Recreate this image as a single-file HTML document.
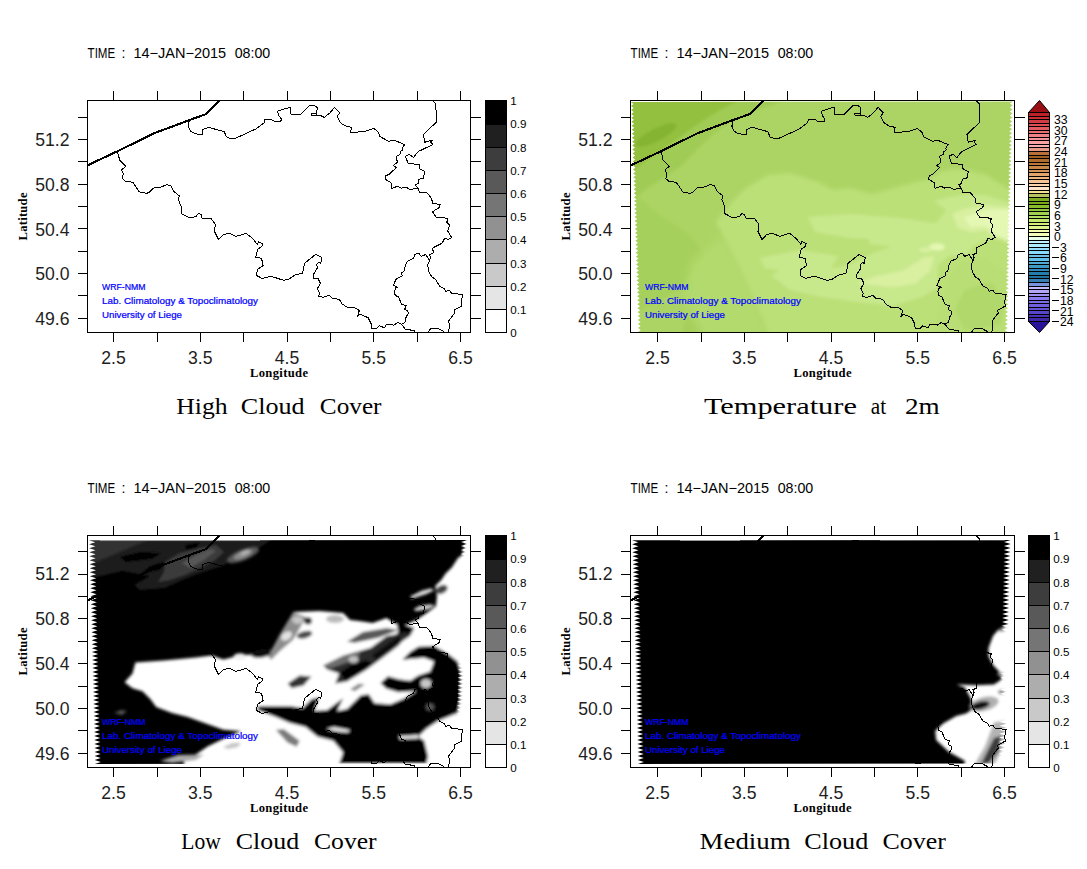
<!DOCTYPE html>
<html lang="en"><head><meta charset="utf-8"><title>WRF-NMM cloud cover and temperature maps</title>
<style>html,body{margin:0;padding:0;background:#fff;overflow:hidden}svg{display:block}</style>
</head><body>
<svg width="1087" height="869" viewBox="0 0 1087 869">
<rect width="1087" height="869" fill="#fff"/>
<defs>
<g id="bthin" fill="none" stroke="#000" stroke-width="1" stroke-linejoin="round" shape-rendering="crispEdges">
<path d="M117.4,152.2 L118.6,155.7 L119.7,160.4 L125.6,166.3 L121.5,170.1 L123.3,173.4 L122.4,178.7 L125.6,181.4 L132.7,182.2 L135.6,186.3 L139.2,191.9 L143.9,192.6 L146.2,193.6 L149.2,192.2 L153.3,188.1 L161.5,186.9 L166.8,184.6 L171.0,185.7 L173.7,191.3 L179.4,196.0 L178.4,199.5 L181.4,207.2 L181.4,213.7 L189.6,218.0 L196.1,216.4 L198.5,213.3 L201.4,214.9 L201.8,218.0 L210.8,218.4 L215.5,224.3 L214.4,231.3 L218.5,239.6 L223.2,234.5 L229.1,233.3 L236.1,236.4 L246.1,233.3 L252.6,238.4 L257.3,244.3 L258.5,241.6 L262.6,243.7 L262.0,246.3 L257.9,249.0 L255.6,257.2 L261.5,258.4 L263.2,265.5 L257.3,269.6 L256.7,275.5 L262.0,278.4 L270.9,276.2 L283.9,280.4 L288.6,279.2 L295.0,275.1 L302.7,273.1 L304.5,263.3 L315.6,254.4 L321.8,257.6 L320.7,263.5 L319.2,262.1 L316.8,264.5 L317.4,268.0 L313.3,274.5 L313.5,278.4 L318.0,278.6 L320.4,283.3 L317.4,288.6 L319.8,293.3 L318.6,296.3 L323.3,297.4 L329.2,295.3 L332.7,298.6 L339.2,299.2 L342.1,303.9 L348.1,307.8 L354.0,307.2 L359.3,310.5 L357.5,316.4 L359.9,314.3 L368.1,317.6 L371.1,323.7 L371.7,328.4 L376.4,328.4 L379.3,325.8 L384.6,327.8 L386.4,324.3 L394.0,325.1 L397.6,322.5 L401.7,324.3 L405.2,329.0 L414.7,330.8 L414.7,332.0"/>
<path d="M189.2,121.0 L188.4,126.3 L190.4,131.0 L195.1,133.9 L202.8,134.3 L202.8,129.6 L208.6,127.2 L213.0,128.6 L224.2,131.6 L226.5,136.9 L230.7,138.6 L235.4,138.3 L256.0,128.9 L264.2,122.7 L264.8,119.4 L271.3,119.4 L274.2,121.3 L280.7,121.3 L281.5,119.2 L278.9,115.7 L277.5,111.2 L283.7,109.2 L290.7,107.2 L291.0,114.3 L300.7,114.3 L309.6,105.3 L313.7,105.3 L317.2,107.4 L316.6,115.1 L320.2,115.4 L324.3,117.4 L330.2,112.7 L334.5,107.2 L339.6,112.7 L337.2,116.6 L339.6,121.0 L341.0,123.3 L345.7,126.0 L351.6,127.4 L350.4,132.1 L357.5,132.1 L366.3,131.0 L374.0,128.4 L378.7,132.7 L379.9,136.6 L388.7,141.3 L394.0,140.2 L404.6,144.5 L402.2,148.6 L402.8,149.8 L400.5,151.6 L399.9,154.5 L396.3,156.3 L397.3,162.2 L393.4,165.7 L396.3,167.5 L389.3,174.3 L385.7,175.7 L385.2,179.3 L391.0,182.8 L391.6,188.4 L397.5,186.3 L401.1,188.1 L406.4,187.5 L409.9,189.3 L418.1,188.4"/>
<path d="M316.6,115.1 L311.3,115.1 L311.3,113.3 L316.6,113.3"/>
<path d="M418.1,188.4 L415.2,184.9 L418.1,183.4 L418.7,179.3 L423.4,178.1 L424.8,171.6 L419.3,168.7 L419.3,164.5 L408.1,163.4 L405.5,156.3 L409.3,154.3 L413.4,157.5 L418.1,151.6 L432.9,144.5 L430.5,142.2 L432.6,140.2 L424.8,142.2 L423.4,134.5 L436.4,122.1 L435.8,103.9 L432.3,100.4"/>
<path d="M418.1,188.4 L419.6,192.9 L426.5,192.2 L431.6,198.4 L432.5,203.0 L440.3,204.7 L439.0,207.6 L432.5,211.8 L436.6,217.9 L442.2,217.3 L447.7,218.7 L446.8,222.3 L449.5,224.9 L447.7,231.1 L451.7,237.5 L448.2,239.4 L444.5,238.5 L442.2,243.1 L432.5,248.1 L433.5,252.8 L429.4,254.8 L430.6,257.8 L429.4,260.7"/>
<path d="M429.4,260.7 L425.8,254.5 L421.1,256.4 L418.8,253.3 L414.7,254.5 L413.5,258.4 L407.6,261.1 L405.2,265.4 L404.3,271.0 L401.5,272.8 L402.3,275.7 L396.4,278.7 L393.2,285.4 L397.9,287.2 L395.8,287.8 L394.4,291.3 L395.2,295.5 L398.2,296.6 L401.7,304.3 L406.1,305.8 L404.6,309.6 L407.6,310.8 L408.5,312.9 L405.8,317.8 L405.2,322.0 L401.7,324.3"/>
<path d="M429.4,260.7 L427.6,265.4 L428.8,271.3 L431.7,276.9 L435.8,279.6 L439.4,286.0 L444.1,288.4 L445.9,291.3 L449.4,290.2 L451.7,293.3 L462.7,294.5 L461.2,301.3 L461.8,306.1 L454.1,310.2 L454.7,313.1 L448.8,320.8 L449.4,327.3 L448.2,332.0"/>
<path d="M428.2,331.8 L431.1,328.2 L437.6,328.2 L444.1,331.6"/>
</g>
<path id="coast" d="M87.5,165.3 L118.0,151.0 L154.0,133.3 L188.6,120.4 L206.3,114.0 L220.3,100.2" fill="none" stroke="#000" stroke-width="2.1" stroke-linejoin="round" shape-rendering="crispEdges"/>
<clipPath id="clip_tl"><rect x="88" y="100" width="382" height="233"/></clipPath>
<clipPath id="clip_tr"><rect x="631" y="100" width="383" height="233"/></clipPath>
<clipPath id="clip_bl"><rect x="88" y="535" width="382" height="233"/></clipPath>
<clipPath id="clip_br"><rect x="631" y="535" width="383" height="233"/></clipPath>
<clipPath id="fq_bl"><polygon points="89.0,540.3 467.8,540.0 461.0,542.0 467.7,544.0 460.9,546.0 467.6,548.0 460.8,550.0 467.5,552.0 460.7,554.0 467.4,556.0 460.6,558.0 467.3,560.0 460.5,562.0 467.2,564.0 460.4,566.0 467.1,568.0 460.3,569.9 467.0,571.9 460.2,573.9 466.9,575.9 460.1,577.9 466.8,579.9 460.0,581.9 466.7,583.9 459.9,585.9 466.6,587.9 459.8,589.9 466.5,591.9 459.7,593.9 466.4,595.9 459.6,597.9 466.3,599.9 459.5,601.9 466.2,603.9 459.4,605.9 466.1,607.9 459.3,609.9 466.0,611.9 459.2,613.9 465.9,615.9 459.1,617.9 465.8,619.9 459.0,621.9 465.7,623.9 458.9,625.8 465.6,627.8 458.8,629.8 465.5,631.8 458.7,633.8 465.4,635.8 458.6,637.8 465.3,639.8 458.5,641.8 465.2,643.8 458.4,645.8 465.1,647.8 458.3,649.8 465.1,651.8 458.2,653.8 465.0,655.8 458.1,657.8 464.9,659.8 458.0,661.8 464.8,663.8 457.9,665.8 464.7,667.8 457.8,669.8 464.6,671.8 457.7,673.8 464.5,675.8 457.6,677.8 464.4,679.8 457.5,681.7 464.3,683.7 457.4,685.7 464.2,687.7 457.3,689.7 464.1,691.7 457.2,693.7 464.0,695.7 457.1,697.7 463.9,699.7 457.0,701.7 463.8,703.7 456.9,705.7 463.7,707.7 456.8,709.7 463.6,711.7 456.7,713.7 463.5,715.7 456.6,717.7 463.4,719.7 456.5,721.7 463.3,723.7 456.4,725.7 463.2,727.7 456.3,729.7 463.1,731.7 456.2,733.7 463.0,735.7 456.1,737.6 462.9,739.6 456.0,741.6 462.8,743.6 455.9,745.6 462.7,747.6 455.8,749.6 462.6,751.6 455.7,753.6 462.5,755.6 455.6,757.6 462.4,759.6 455.5,761.6 462.3,763.6 94.8,764.0 100.9,762.0 94.7,760.0 100.8,758.0 94.6,756.0 100.7,754.0 94.5,752.0 100.6,750.0 94.4,748.0 100.5,746.0 94.3,744.0 100.4,742.0 94.2,740.0 100.3,738.0 94.1,736.0 100.2,734.0 94.0,732.0 100.1,730.0 93.9,728.0 100.0,726.1 93.8,724.1 99.9,722.1 93.7,720.1 99.8,718.1 93.6,716.1 99.7,714.1 93.5,712.1 99.6,710.1 93.3,708.1 99.5,706.1 93.2,704.1 99.4,702.1 93.1,700.1 99.3,698.1 93.0,696.1 99.2,694.1 92.9,692.1 99.1,690.1 92.8,688.1 99.0,686.1 92.7,684.1 98.9,682.1 92.6,680.1 98.8,678.1 92.5,676.1 98.7,674.1 92.4,672.1 98.6,670.1 92.3,668.1 98.5,666.1 92.2,664.1 98.4,662.1 92.1,660.1 98.3,658.1 92.0,656.1 98.2,654.1 91.9,652.1 98.0,650.2 91.8,648.2 97.9,646.2 91.7,644.2 97.8,642.2 91.6,640.2 97.7,638.2 91.5,636.2 97.6,634.2 91.4,632.2 97.5,630.2 91.3,628.2 97.4,626.2 91.2,624.2 97.3,622.2 91.1,620.2 97.2,618.2 91.0,616.2 97.1,614.2 90.9,612.2 97.0,610.2 90.8,608.2 96.9,606.2 90.7,604.2 96.8,602.2 90.6,600.2 96.7,598.2 90.5,596.2 96.6,594.2 90.3,592.2 96.5,590.2 90.2,588.2 96.4,586.2 90.1,584.2 96.3,582.2 90.0,580.2 96.2,578.2 89.9,576.3 96.1,574.3 89.8,572.3 96.0,570.3 89.7,568.3 95.9,566.3 89.6,564.3 95.8,562.3 89.5,560.3 95.7,558.3 89.4,556.3 95.6,554.3 89.3,552.3 95.5,550.3 89.2,548.3 95.4,546.3 89.1,544.3 95.3,542.3 89.0,540.3"/></clipPath>
<clipPath id="fq_br"><polygon points="632.0,540.3 1010.8,540.0 1004.0,542.0 1010.7,544.0 1003.9,546.0 1010.6,548.0 1003.8,550.0 1010.5,552.0 1003.7,554.0 1010.4,556.0 1003.6,558.0 1010.3,560.0 1003.5,562.0 1010.2,564.0 1003.4,566.0 1010.1,568.0 1003.3,569.9 1010.0,571.9 1003.2,573.9 1009.9,575.9 1003.1,577.9 1009.8,579.9 1003.0,581.9 1009.7,583.9 1002.9,585.9 1009.6,587.9 1002.8,589.9 1009.5,591.9 1002.7,593.9 1009.4,595.9 1002.6,597.9 1009.3,599.9 1002.5,601.9 1009.2,603.9 1002.4,605.9 1009.1,607.9 1002.3,609.9 1009.0,611.9 1002.2,613.9 1008.9,615.9 1002.1,617.9 1008.8,619.9 1002.0,621.9 1008.7,623.9 1001.9,625.8 1008.6,627.8 1001.8,629.8 1008.5,631.8 1001.7,633.8 1008.4,635.8 1001.6,637.8 1008.3,639.8 1001.5,641.8 1008.2,643.8 1001.4,645.8 1008.1,647.8 1001.3,649.8 1008.0,651.8 1001.2,653.8 1008.0,655.8 1001.1,657.8 1007.9,659.8 1001.0,661.8 1007.8,663.8 1000.9,665.8 1007.7,667.8 1000.8,669.8 1007.6,671.8 1000.7,673.8 1007.5,675.8 1000.6,677.8 1007.4,679.8 1000.5,681.7 1007.3,683.7 1000.4,685.7 1007.2,687.7 1000.3,689.7 1007.1,691.7 1000.2,693.7 1007.0,695.7 1000.1,697.7 1006.9,699.7 1000.0,701.7 1006.8,703.7 999.9,705.7 1006.7,707.7 999.8,709.7 1006.6,711.7 999.7,713.7 1006.5,715.7 999.6,717.7 1006.4,719.7 999.5,721.7 1006.3,723.7 999.4,725.7 1006.2,727.7 999.3,729.7 1006.1,731.7 999.2,733.7 1006.0,735.7 999.1,737.6 1005.9,739.6 999.0,741.6 1005.8,743.6 998.9,745.6 1005.7,747.6 998.8,749.6 1005.6,751.6 998.7,753.6 1005.5,755.6 998.6,757.6 1005.4,759.6 998.5,761.6 1005.3,763.6 637.8,764.0 643.9,762.0 637.7,760.0 643.8,758.0 637.6,756.0 643.7,754.0 637.5,752.0 643.6,750.0 637.4,748.0 643.5,746.0 637.3,744.0 643.4,742.0 637.2,740.0 643.3,738.0 637.1,736.0 643.2,734.0 637.0,732.0 643.1,730.0 636.9,728.0 643.0,726.1 636.8,724.1 642.9,722.1 636.7,720.1 642.8,718.1 636.6,716.1 642.7,714.1 636.5,712.1 642.6,710.1 636.4,708.1 642.5,706.1 636.2,704.1 642.4,702.1 636.1,700.1 642.3,698.1 636.0,696.1 642.2,694.1 635.9,692.1 642.1,690.1 635.8,688.1 642.0,686.1 635.7,684.1 641.9,682.1 635.6,680.1 641.8,678.1 635.5,676.1 641.7,674.1 635.4,672.1 641.6,670.1 635.3,668.1 641.5,666.1 635.2,664.1 641.4,662.1 635.1,660.1 641.3,658.1 635.0,656.1 641.2,654.1 634.9,652.1 641.0,650.2 634.8,648.2 640.9,646.2 634.7,644.2 640.8,642.2 634.6,640.2 640.7,638.2 634.5,636.2 640.6,634.2 634.4,632.2 640.5,630.2 634.3,628.2 640.4,626.2 634.2,624.2 640.3,622.2 634.1,620.2 640.2,618.2 634.0,616.2 640.1,614.2 633.9,612.2 640.0,610.2 633.8,608.2 639.9,606.2 633.7,604.2 639.8,602.2 633.6,600.2 639.7,598.2 633.5,596.2 639.6,594.2 633.3,592.2 639.5,590.2 633.2,588.2 639.4,586.2 633.1,584.2 639.3,582.2 633.0,580.2 639.2,578.2 632.9,576.3 639.1,574.3 632.8,572.3 639.0,570.3 632.7,568.3 638.9,566.3 632.6,564.3 638.8,562.3 632.5,560.3 638.7,558.3 632.4,556.3 638.6,554.3 632.3,552.3 638.5,550.3 632.2,548.3 638.4,546.3 632.1,544.3 638.3,542.3 632.0,540.3"/></clipPath>
<clipPath id="fq_tr"><polygon points="630.8,102.0 1012.8,101.5 1010.0,103.5 1012.7,105.5 1009.9,107.5 1012.6,109.4 1009.8,111.4 1012.5,113.4 1009.7,115.4 1012.4,117.4 1009.6,119.4 1012.4,121.4 1009.5,123.4 1012.3,125.3 1009.4,127.3 1012.2,129.3 1009.3,131.3 1012.1,133.3 1009.2,135.3 1012.0,137.3 1009.1,139.3 1011.9,141.2 1009.1,143.2 1011.8,145.2 1009.0,147.2 1011.7,149.2 1008.9,151.2 1011.6,153.2 1008.8,155.2 1011.5,157.1 1008.7,159.1 1011.5,161.1 1008.6,163.1 1011.4,165.1 1008.5,167.1 1011.3,169.1 1008.4,171.0 1011.2,173.0 1008.3,175.0 1011.1,177.0 1008.3,179.0 1011.0,181.0 1008.2,183.0 1010.9,185.0 1008.1,186.9 1010.8,188.9 1008.0,190.9 1010.7,192.9 1007.9,194.9 1010.6,196.9 1007.8,198.9 1010.6,200.9 1007.7,202.8 1010.5,204.8 1007.6,206.8 1010.4,208.8 1007.5,210.8 1010.3,212.8 1007.4,214.8 1010.2,216.8 1007.4,218.7 1010.1,220.7 1007.3,222.7 1010.0,224.7 1007.2,226.7 1009.9,228.7 1007.1,230.7 1009.8,232.6 1007.0,234.6 1009.8,236.6 1006.9,238.6 1009.7,240.6 1006.8,242.6 1009.6,244.6 1006.7,246.6 1009.5,248.5 1006.6,250.5 1009.4,252.5 1006.5,254.5 1009.3,256.5 1006.5,258.5 1009.2,260.5 1006.4,262.5 1009.1,264.4 1006.3,266.4 1009.0,268.4 1006.2,270.4 1008.9,272.4 1006.1,274.4 1008.9,276.4 1006.0,278.3 1008.8,280.3 1005.9,282.3 1008.7,284.3 1005.8,286.3 1008.6,288.3 1005.7,290.3 1008.5,292.3 1005.7,294.2 1008.4,296.2 1005.6,298.2 1008.3,300.2 1005.5,302.2 1008.2,304.2 1005.4,306.2 1008.1,308.2 1005.3,310.1 1008.0,312.1 1005.2,314.1 1008.0,316.1 1005.1,318.1 1007.9,320.1 1005.0,322.1 1007.8,324.1 1004.9,326.0 1007.7,328.0 1004.8,330.0 1007.6,332.0 638.2,332.0 640.7,330.0 638.1,328.0 640.6,326.1 637.9,324.1 640.5,322.1 637.8,320.1 640.4,318.1 637.7,316.1 640.2,314.2 637.6,312.2 640.1,310.2 637.4,308.2 640.0,306.2 637.3,304.2 639.8,302.3 637.2,300.3 639.7,298.3 637.1,296.3 639.6,294.3 636.9,292.3 639.5,290.4 636.8,288.4 639.3,286.4 636.7,284.4 639.2,282.4 636.5,280.4 639.1,278.5 636.4,276.5 639.0,274.5 636.3,272.5 638.8,270.5 636.2,268.6 638.7,266.6 636.0,264.6 638.6,262.6 635.9,260.6 638.4,258.6 635.8,256.7 638.3,254.7 635.6,252.7 638.2,250.7 635.5,248.7 638.1,246.7 635.4,244.8 637.9,242.8 635.3,240.8 637.8,238.8 635.1,236.8 637.7,234.8 635.0,232.9 637.5,230.9 634.9,228.9 637.4,226.9 634.8,224.9 637.3,222.9 634.6,221.0 637.2,219.0 634.5,217.0 637.0,215.0 634.4,213.0 636.9,211.1 634.2,209.1 636.8,207.1 634.1,205.1 636.7,203.1 634.0,201.1 636.5,199.2 633.9,197.2 636.4,195.2 633.7,193.2 636.3,191.2 633.6,189.2 636.1,187.3 633.5,185.3 636.0,183.3 633.4,181.3 635.9,179.3 633.2,177.3 635.8,175.4 633.1,173.4 635.6,171.4 633.0,169.4 635.5,167.4 632.8,165.4 635.4,163.5 632.7,161.5 635.2,159.5 632.6,157.5 635.1,155.5 632.5,153.6 635.0,151.6 632.3,149.6 634.9,147.6 632.2,145.6 634.7,143.6 632.1,141.7 634.6,139.7 631.9,137.7 634.5,135.7 631.8,133.7 634.4,131.7 631.7,129.8 634.2,127.8 631.6,125.8 634.1,123.8 631.4,121.8 634.0,119.8 631.3,117.9 633.8,115.9 631.2,113.9 633.7,111.9 631.1,109.9 633.6,107.9 630.9,106.0 633.5,104.0 630.8,102.0"/></clipPath>
<filter id="b06" x="-20%" y="-20%" width="140%" height="140%"><feGaussianBlur stdDeviation="0.6"/></filter>
<filter id="b1" x="-20%" y="-20%" width="140%" height="140%"><feGaussianBlur stdDeviation="1"/></filter>
<filter id="b15" x="-20%" y="-20%" width="140%" height="140%"><feGaussianBlur stdDeviation="1.5"/></filter>
<filter id="b2" x="-20%" y="-20%" width="140%" height="140%"><feGaussianBlur stdDeviation="2"/></filter>
<filter id="b3" x="-20%" y="-20%" width="140%" height="140%"><feGaussianBlur stdDeviation="3"/></filter>
<filter id="b5" x="-20%" y="-20%" width="140%" height="140%"><feGaussianBlur stdDeviation="5"/></filter>
<filter id="b8" x="-20%" y="-20%" width="140%" height="140%"><feGaussianBlur stdDeviation="8"/></filter>
</defs>

<!-- panel tl : High Cloud Cover -->
<g>

<g clip-path="url(#clip_tl)">
<use href="#bthin" transform="translate(0,0)"/>
<use href="#coast" transform="translate(0,0)"/>
</g>
<g stroke="#000" stroke-width="1" fill="none" shape-rendering="crispEdges"><rect x="87.5" y="100.5" width="383" height="232"/><line x1="113.5" y1="91" x2="113.5" y2="100"/><line x1="113.5" y1="333" x2="113.5" y2="342"/><line x1="157.5" y1="91" x2="157.5" y2="100"/><line x1="157.5" y1="333" x2="157.5" y2="342"/><line x1="200.5" y1="91" x2="200.5" y2="100"/><line x1="200.5" y1="333" x2="200.5" y2="342"/><line x1="243.5" y1="91" x2="243.5" y2="100"/><line x1="243.5" y1="333" x2="243.5" y2="342"/><line x1="287.5" y1="91" x2="287.5" y2="100"/><line x1="287.5" y1="333" x2="287.5" y2="342"/><line x1="330.5" y1="91" x2="330.5" y2="100"/><line x1="330.5" y1="333" x2="330.5" y2="342"/><line x1="373.5" y1="91" x2="373.5" y2="100"/><line x1="373.5" y1="333" x2="373.5" y2="342"/><line x1="417.5" y1="91" x2="417.5" y2="100"/><line x1="417.5" y1="333" x2="417.5" y2="342"/><line x1="460.5" y1="91" x2="460.5" y2="100"/><line x1="460.5" y1="333" x2="460.5" y2="342"/><line x1="78" y1="117.5" x2="87" y2="117.5"/><line x1="471" y1="117.5" x2="481" y2="117.5"/><line x1="78" y1="139.5" x2="87" y2="139.5"/><line x1="471" y1="139.5" x2="481" y2="139.5"/><line x1="78" y1="161.5" x2="87" y2="161.5"/><line x1="471" y1="161.5" x2="481" y2="161.5"/><line x1="78" y1="184.5" x2="87" y2="184.5"/><line x1="471" y1="184.5" x2="481" y2="184.5"/><line x1="78" y1="206.5" x2="87" y2="206.5"/><line x1="471" y1="206.5" x2="481" y2="206.5"/><line x1="78" y1="228.5" x2="87" y2="228.5"/><line x1="471" y1="228.5" x2="481" y2="228.5"/><line x1="78" y1="251.5" x2="87" y2="251.5"/><line x1="471" y1="251.5" x2="481" y2="251.5"/><line x1="78" y1="273.5" x2="87" y2="273.5"/><line x1="471" y1="273.5" x2="481" y2="273.5"/><line x1="78" y1="295.5" x2="87" y2="295.5"/><line x1="471" y1="295.5" x2="481" y2="295.5"/><line x1="78" y1="318.5" x2="87" y2="318.5"/><line x1="471" y1="318.5" x2="481" y2="318.5"/></g>
<g font-family="Liberation Sans, sans-serif" font-size="14.2"><text x="87.6" y="58" textLength="27.6" lengthAdjust="spacingAndGlyphs">TIME</text><text x="121.6" y="58">:</text><text x="133.4" y="58" textLength="92.8" lengthAdjust="spacingAndGlyphs">14−JAN−2015</text><text x="234.7" y="58" textLength="35.6" lengthAdjust="spacingAndGlyphs">08:00</text></g><g font-family="Liberation Sans, sans-serif" font-size="17.6" text-anchor="middle" fill="#1e1e1e"><text x="113.5" y="363.6">2.5</text><text x="200.2" y="363.6">3.5</text><text x="287.0" y="363.6">4.5</text><text x="373.8" y="363.6">5.5</text><text x="460.5" y="363.6">6.5</text></g><g font-family="Liberation Sans, sans-serif" font-size="17.6" text-anchor="end" fill="#1e1e1e"><text x="69.5" y="146.1">51.2</text><text x="69.5" y="190.8">50.8</text><text x="69.5" y="235.5">50.4</text><text x="69.5" y="280.1">50.0</text><text x="69.5" y="324.8">49.6</text></g><text x="279" y="377" font-family="Liberation Serif, serif" font-weight="bold" font-size="12.6" text-anchor="middle" textLength="58" lengthAdjust="spacing">Longitude</text><text transform="translate(27,216.5) rotate(-90)" font-family="Liberation Serif, serif" font-weight="bold" font-size="12.6" text-anchor="middle" textLength="48" lengthAdjust="spacing">Latitude</text><g font-family="Liberation Serif, serif" font-size="23.5"><text x="176.3" y="413.6" textLength="51.4" lengthAdjust="spacingAndGlyphs">High</text><text x="240.8" y="413.6" textLength="63.8" lengthAdjust="spacingAndGlyphs">Cloud</text><text x="319.8" y="413.6" textLength="61.7" lengthAdjust="spacingAndGlyphs">Cover</text></g><g font-family="Liberation Sans, sans-serif" font-size="9.4" fill="#0000ff" stroke="#0000ff" stroke-width="0.22"><text x="102" y="289.6" textLength="43.5" lengthAdjust="spacingAndGlyphs">WRF-NMM</text><text x="102" y="304" textLength="156" lengthAdjust="spacingAndGlyphs">Lab. Climatology &amp; Topoclimatology</text><text x="102" y="318.4" textLength="80" lengthAdjust="spacingAndGlyphs">University of Liege</text></g>
<g shape-rendering="crispEdges"><rect x="485.5" y="100.5" width="21" height="24" fill="rgb(0,0,0)"/><rect x="485.5" y="124.5" width="21" height="23" fill="rgb(32,32,32)"/><rect x="485.5" y="147.5" width="21" height="23" fill="rgb(61,61,61)"/><rect x="485.5" y="170.5" width="21" height="23" fill="rgb(89,89,89)"/><rect x="485.5" y="193.5" width="21" height="23" fill="rgb(117,117,117)"/><rect x="485.5" y="216.5" width="21" height="23" fill="rgb(145,145,145)"/><rect x="485.5" y="239.5" width="21" height="24" fill="rgb(173,173,173)"/><rect x="485.5" y="263.5" width="21" height="23" fill="rgb(201,201,201)"/><rect x="485.5" y="286.5" width="21" height="23" fill="rgb(229,229,229)"/><rect x="485.5" y="309.5" width="21" height="23" fill="rgb(255,255,255)"/><g stroke="#000" fill="none"><line x1="485" y1="124.5" x2="507" y2="124.5"/><line x1="485" y1="147.5" x2="507" y2="147.5"/><line x1="485" y1="170.5" x2="507" y2="170.5"/><line x1="485" y1="193.5" x2="507" y2="193.5"/><line x1="485" y1="216.5" x2="507" y2="216.5"/><line x1="485" y1="239.5" x2="507" y2="239.5"/><line x1="485" y1="263.5" x2="507" y2="263.5"/><line x1="485" y1="286.5" x2="507" y2="286.5"/><line x1="485" y1="309.5" x2="507" y2="309.5"/><rect x="485.5" y="100.5" width="21" height="232"/></g></g><g font-family="Liberation Sans, sans-serif" font-size="11.6"><text x="510.3" y="105.1">1</text><text x="510.3" y="128.3">0.9</text><text x="510.3" y="151.5">0.8</text><text x="510.3" y="174.7">0.7</text><text x="510.3" y="197.9">0.6</text><text x="510.3" y="221.1">0.5</text><text x="510.3" y="244.3">0.4</text><text x="510.3" y="267.5">0.3</text><text x="510.3" y="290.7">0.2</text><text x="510.3" y="313.9">0.1</text><text x="510.3" y="337.1">0</text></g>
</g>

<!-- panel tr : Temperature at 2m -->
<g>
<g clip-path="url(#clip_tr)">
<rect x="629" y="100" width="386" height="233" fill="#acd464"/>
<g filter="url(#b15)">
<polygon points="620,206 631,204 645.7,189.3 664.8,177.6 679.6,167.2 689.9,156.9 701.7,145.1 716.4,131.9 734.1,120.1 750.3,112.7 775.3,103.9 790,95 620,95" fill="#a0cc54"/>
<polygon points="620,95 748,95 738,101 720,110 701,122 683,135 665,148 646,161 632,172 620,180" fill="#94c040"/>
<ellipse cx="656" cy="135" rx="23" ry="6.5" transform="rotate(-27 656 135)" fill="#84b430"/>
<polygon points="620,206 640,198 660,215 690,235 705,255 680,290 620,320" fill="#a6d05c"/>
<polygon points="690,305 740,308 785,322 780,340 680,340" fill="#a5cf5a"/>
</g>
<polygon points="692,262 722,236 740,262 757,300 772,340 704,340 684,300" fill="#b3da6d" filter="url(#b5)"/>
<g filter="url(#b2)">
<polygon points="716,222 731,203 746,188 768,175 790,173 820,183 833,190 849,188 872,194 894,188 916,182 930,179 940,172 953,169 967,170 986,175 1004,186 1020,195 1020,340 770,340 755,300 737,262" fill="#bce078"/>
</g>
<g filter="url(#b15)">
<polygon points="866,226 890,222 912,226 915,240 895,247 870,244" fill="#c8e88c"/>
<polygon points="934,201 949,197 967,194 986,195.5 1004,201 1020,206 1020,250 1006.8,243 994.8,237.6 985.6,239.4 972.7,246.8 967.2,254.2 948.8,256 937.8,265.2 937.8,287.3 923,296.5 893.6,305.7 856.8,302 820,296.5 790,290 772,276 790,262 820,270.7 847.6,265.2 875.2,252.3 902.8,243.1 923,232.1 937.8,221 946,210" fill="#c8e88c"/>
<polygon points="808,217 850,214 900,218 940,224 930,236 890,240 850,238 815,232" fill="#c8e88c"/>
<polygon points="760,258 800,250 838,256 830,270 790,272 765,268" fill="#c8e88c"/>
<polygon points="856.8,283.6 893.6,287.3 915.7,283.6 930.4,270.7 934.1,256 923,257.8 902.8,270.7 875.2,276.2" fill="#d8f0a0"/>
<polygon points="952,214 963.5,209 985.6,205 1020,208 1020,246 1006.8,241.3 994.8,237.6 985.6,230 970.9,232 958,228" fill="#d8f0a0"/>
<polygon points="963.5,217.4 985.6,210 1020,210 1020,240 1006.8,239 994.8,234 985.6,226 970.9,227" fill="#e4f8b4"/>
<ellipse cx="937" cy="247" rx="8" ry="3.5" fill="#e4f8b4"/>
<ellipse cx="925" cy="250" rx="6" ry="2.5" fill="#d8f0a0"/>
<polygon points="950,276 962,262 985,258 1002,270 1015,290 1015,340 930,340 940,310" fill="#b8de74"/>
<polygon points="965,290 990,282 1005,300 1000,325 965,330 955,310" fill="#b0d86a"/>
</g>
<path d="M630,100 H1015 V333 H630 Z M630.8,102.0 L1012.8,101.5 L1010.0,103.5 L1012.7,105.5 L1009.9,107.5 L1012.6,109.4 L1009.8,111.4 L1012.5,113.4 L1009.7,115.4 L1012.4,117.4 L1009.6,119.4 L1012.4,121.4 L1009.5,123.4 L1012.3,125.3 L1009.4,127.3 L1012.2,129.3 L1009.3,131.3 L1012.1,133.3 L1009.2,135.3 L1012.0,137.3 L1009.1,139.3 L1011.9,141.2 L1009.1,143.2 L1011.8,145.2 L1009.0,147.2 L1011.7,149.2 L1008.9,151.2 L1011.6,153.2 L1008.8,155.2 L1011.5,157.1 L1008.7,159.1 L1011.5,161.1 L1008.6,163.1 L1011.4,165.1 L1008.5,167.1 L1011.3,169.1 L1008.4,171.0 L1011.2,173.0 L1008.3,175.0 L1011.1,177.0 L1008.3,179.0 L1011.0,181.0 L1008.2,183.0 L1010.9,185.0 L1008.1,186.9 L1010.8,188.9 L1008.0,190.9 L1010.7,192.9 L1007.9,194.9 L1010.6,196.9 L1007.8,198.9 L1010.6,200.9 L1007.7,202.8 L1010.5,204.8 L1007.6,206.8 L1010.4,208.8 L1007.5,210.8 L1010.3,212.8 L1007.4,214.8 L1010.2,216.8 L1007.4,218.7 L1010.1,220.7 L1007.3,222.7 L1010.0,224.7 L1007.2,226.7 L1009.9,228.7 L1007.1,230.7 L1009.8,232.6 L1007.0,234.6 L1009.8,236.6 L1006.9,238.6 L1009.7,240.6 L1006.8,242.6 L1009.6,244.6 L1006.7,246.6 L1009.5,248.5 L1006.6,250.5 L1009.4,252.5 L1006.5,254.5 L1009.3,256.5 L1006.5,258.5 L1009.2,260.5 L1006.4,262.5 L1009.1,264.4 L1006.3,266.4 L1009.0,268.4 L1006.2,270.4 L1008.9,272.4 L1006.1,274.4 L1008.9,276.4 L1006.0,278.3 L1008.8,280.3 L1005.9,282.3 L1008.7,284.3 L1005.8,286.3 L1008.6,288.3 L1005.7,290.3 L1008.5,292.3 L1005.7,294.2 L1008.4,296.2 L1005.6,298.2 L1008.3,300.2 L1005.5,302.2 L1008.2,304.2 L1005.4,306.2 L1008.1,308.2 L1005.3,310.1 L1008.0,312.1 L1005.2,314.1 L1008.0,316.1 L1005.1,318.1 L1007.9,320.1 L1005.0,322.1 L1007.8,324.1 L1004.9,326.0 L1007.7,328.0 L1004.8,330.0 L1007.6,332.0 L638.2,332.0 L640.7,330.0 L638.1,328.0 L640.6,326.1 L637.9,324.1 L640.5,322.1 L637.8,320.1 L640.4,318.1 L637.7,316.1 L640.2,314.2 L637.6,312.2 L640.1,310.2 L637.4,308.2 L640.0,306.2 L637.3,304.2 L639.8,302.3 L637.2,300.3 L639.7,298.3 L637.1,296.3 L639.6,294.3 L636.9,292.3 L639.5,290.4 L636.8,288.4 L639.3,286.4 L636.7,284.4 L639.2,282.4 L636.5,280.4 L639.1,278.5 L636.4,276.5 L639.0,274.5 L636.3,272.5 L638.8,270.5 L636.2,268.6 L638.7,266.6 L636.0,264.6 L638.6,262.6 L635.9,260.6 L638.4,258.6 L635.8,256.7 L638.3,254.7 L635.6,252.7 L638.2,250.7 L635.5,248.7 L638.1,246.7 L635.4,244.8 L637.9,242.8 L635.3,240.8 L637.8,238.8 L635.1,236.8 L637.7,234.8 L635.0,232.9 L637.5,230.9 L634.9,228.9 L637.4,226.9 L634.8,224.9 L637.3,222.9 L634.6,221.0 L637.2,219.0 L634.5,217.0 L637.0,215.0 L634.4,213.0 L636.9,211.1 L634.2,209.1 L636.8,207.1 L634.1,205.1 L636.7,203.1 L634.0,201.1 L636.5,199.2 L633.9,197.2 L636.4,195.2 L633.7,193.2 L636.3,191.2 L633.6,189.2 L636.1,187.3 L633.5,185.3 L636.0,183.3 L633.4,181.3 L635.9,179.3 L633.2,177.3 L635.8,175.4 L633.1,173.4 L635.6,171.4 L633.0,169.4 L635.5,167.4 L632.8,165.4 L635.4,163.5 L632.7,161.5 L635.2,159.5 L632.6,157.5 L635.1,155.5 L632.5,153.6 L635.0,151.6 L632.3,149.6 L634.9,147.6 L632.2,145.6 L634.7,143.6 L632.1,141.7 L634.6,139.7 L631.9,137.7 L634.5,135.7 L631.8,133.7 L634.4,131.7 L631.7,129.8 L634.2,127.8 L631.6,125.8 L634.1,123.8 L631.4,121.8 L634.0,119.8 L631.3,117.9 L633.8,115.9 L631.2,113.9 L633.7,111.9 L631.1,109.9 L633.6,107.9 L630.9,106.0 L633.5,104.0 L630.8,102.0 Z" fill="#fff" fill-rule="evenodd"/>
</g>
<g clip-path="url(#clip_tr)">
<use href="#bthin" transform="translate(543.5,0)"/>
<use href="#coast" transform="translate(543.5,0)"/>
</g>
<g stroke="#000" stroke-width="1" fill="none" shape-rendering="crispEdges"><rect x="630.5" y="100.5" width="384" height="232"/><line x1="657.5" y1="91" x2="657.5" y2="100"/><line x1="657.5" y1="333" x2="657.5" y2="342"/><line x1="701.5" y1="91" x2="701.5" y2="100"/><line x1="701.5" y1="333" x2="701.5" y2="342"/><line x1="744.5" y1="91" x2="744.5" y2="100"/><line x1="744.5" y1="333" x2="744.5" y2="342"/><line x1="787.5" y1="91" x2="787.5" y2="100"/><line x1="787.5" y1="333" x2="787.5" y2="342"/><line x1="831.5" y1="91" x2="831.5" y2="100"/><line x1="831.5" y1="333" x2="831.5" y2="342"/><line x1="874.5" y1="91" x2="874.5" y2="100"/><line x1="874.5" y1="333" x2="874.5" y2="342"/><line x1="917.5" y1="91" x2="917.5" y2="100"/><line x1="917.5" y1="333" x2="917.5" y2="342"/><line x1="961.5" y1="91" x2="961.5" y2="100"/><line x1="961.5" y1="333" x2="961.5" y2="342"/><line x1="1004.5" y1="91" x2="1004.5" y2="100"/><line x1="1004.5" y1="333" x2="1004.5" y2="342"/><line x1="621" y1="117.5" x2="630" y2="117.5"/><line x1="1015" y1="117.5" x2="1025" y2="117.5"/><line x1="621" y1="139.5" x2="630" y2="139.5"/><line x1="1015" y1="139.5" x2="1025" y2="139.5"/><line x1="621" y1="161.5" x2="630" y2="161.5"/><line x1="1015" y1="161.5" x2="1025" y2="161.5"/><line x1="621" y1="184.5" x2="630" y2="184.5"/><line x1="1015" y1="184.5" x2="1025" y2="184.5"/><line x1="621" y1="206.5" x2="630" y2="206.5"/><line x1="1015" y1="206.5" x2="1025" y2="206.5"/><line x1="621" y1="228.5" x2="630" y2="228.5"/><line x1="1015" y1="228.5" x2="1025" y2="228.5"/><line x1="621" y1="251.5" x2="630" y2="251.5"/><line x1="1015" y1="251.5" x2="1025" y2="251.5"/><line x1="621" y1="273.5" x2="630" y2="273.5"/><line x1="1015" y1="273.5" x2="1025" y2="273.5"/><line x1="621" y1="295.5" x2="630" y2="295.5"/><line x1="1015" y1="295.5" x2="1025" y2="295.5"/><line x1="621" y1="318.5" x2="630" y2="318.5"/><line x1="1015" y1="318.5" x2="1025" y2="318.5"/></g>
<g font-family="Liberation Sans, sans-serif" font-size="14.2"><text x="630.6" y="58" textLength="27.6" lengthAdjust="spacingAndGlyphs">TIME</text><text x="664.6" y="58">:</text><text x="676.4" y="58" textLength="92.8" lengthAdjust="spacingAndGlyphs">14−JAN−2015</text><text x="777.7" y="58" textLength="35.6" lengthAdjust="spacingAndGlyphs">08:00</text></g><g font-family="Liberation Sans, sans-serif" font-size="17.6" text-anchor="middle" fill="#1e1e1e"><text x="657.5" y="363.6">2.5</text><text x="744.2" y="363.6">3.5</text><text x="831.0" y="363.6">4.5</text><text x="917.8" y="363.6">5.5</text><text x="1004.5" y="363.6">6.5</text></g><g font-family="Liberation Sans, sans-serif" font-size="17.6" text-anchor="end" fill="#1e1e1e"><text x="612.5" y="146.1">51.2</text><text x="612.5" y="190.8">50.8</text><text x="612.5" y="235.5">50.4</text><text x="612.5" y="280.1">50.0</text><text x="612.5" y="324.8">49.6</text></g><text x="822.5" y="377" font-family="Liberation Serif, serif" font-weight="bold" font-size="12.6" text-anchor="middle" textLength="58" lengthAdjust="spacing">Longitude</text><text transform="translate(570,216.5) rotate(-90)" font-family="Liberation Serif, serif" font-weight="bold" font-size="12.6" text-anchor="middle" textLength="48" lengthAdjust="spacing">Latitude</text><g font-family="Liberation Serif, serif" font-size="23.5"><text x="703.9" y="413.6" textLength="153.0" lengthAdjust="spacingAndGlyphs">Temperature</text><text x="870.8" y="413.6" textLength="15.4" lengthAdjust="spacingAndGlyphs">at</text><text x="904.9" y="413.6" textLength="34.7" lengthAdjust="spacingAndGlyphs">2m</text></g><g font-family="Liberation Sans, sans-serif" font-size="9.4" fill="#0000ff" stroke="#0000ff" stroke-width="0.22"><text x="645" y="289.6" textLength="43.5" lengthAdjust="spacingAndGlyphs">WRF-NMM</text><text x="645" y="304" textLength="156" lengthAdjust="spacingAndGlyphs">Lab. Climatology &amp; Topoclimatology</text><text x="645" y="318.4" textLength="80" lengthAdjust="spacingAndGlyphs">University of Liege</text></g>
<g shape-rendering="crispEdges"><rect x="1028.5" y="112.5" width="21" height="4" fill="rgb(192,32,40)"/><rect x="1028.5" y="116.5" width="21" height="3" fill="rgb(204,44,52)"/><rect x="1028.5" y="119.5" width="21" height="4" fill="rgb(208,60,68)"/><rect x="1028.5" y="123.5" width="21" height="3" fill="rgb(220,76,84)"/><rect x="1028.5" y="126.5" width="21" height="4" fill="rgb(224,92,100)"/><rect x="1028.5" y="130.5" width="21" height="3" fill="rgb(236,108,116)"/><rect x="1028.5" y="133.5" width="21" height="4" fill="rgb(240,128,136)"/><rect x="1028.5" y="137.5" width="21" height="3" fill="rgb(244,144,152)"/><rect x="1028.5" y="140.5" width="21" height="4" fill="rgb(248,160,164)"/><rect x="1028.5" y="144.5" width="21" height="3" fill="rgb(248,172,176)"/><rect x="1028.5" y="147.5" width="21" height="4" fill="rgb(232,152,136)"/><rect x="1028.5" y="151.5" width="21" height="4" fill="rgb(184,112,56)"/><rect x="1028.5" y="155.5" width="21" height="3" fill="rgb(160,96,32)"/><rect x="1028.5" y="158.5" width="21" height="4" fill="rgb(176,108,44)"/><rect x="1028.5" y="162.5" width="21" height="3" fill="rgb(188,120,56)"/><rect x="1028.5" y="165.5" width="21" height="4" fill="rgb(200,136,72)"/><rect x="1028.5" y="169.5" width="21" height="3" fill="rgb(212,148,88)"/><rect x="1028.5" y="172.5" width="21" height="4" fill="rgb(224,164,108)"/><rect x="1028.5" y="176.5" width="21" height="3" fill="rgb(236,180,128)"/><rect x="1028.5" y="179.5" width="21" height="4" fill="rgb(244,196,148)"/><rect x="1028.5" y="183.5" width="21" height="3" fill="rgb(252,212,172)"/><rect x="1028.5" y="186.5" width="21" height="4" fill="rgb(254,228,200)"/><rect x="1028.5" y="190.5" width="21" height="3" fill="rgb(240,224,144)"/><rect x="1028.5" y="193.5" width="21" height="4" fill="rgb(184,196,96)"/><rect x="1028.5" y="197.5" width="21" height="4" fill="rgb(124,172,32)"/><rect x="1028.5" y="201.5" width="21" height="3" fill="rgb(120,168,28)"/><rect x="1028.5" y="204.5" width="21" height="4" fill="rgb(136,188,40)"/><rect x="1028.5" y="208.5" width="21" height="3" fill="rgb(144,196,60)"/><rect x="1028.5" y="211.5" width="21" height="4" fill="rgb(160,208,80)"/><rect x="1028.5" y="215.5" width="21" height="3" fill="rgb(176,224,96)"/><rect x="1028.5" y="218.5" width="21" height="4" fill="rgb(192,232,108)"/><rect x="1028.5" y="222.5" width="21" height="3" fill="rgb(208,240,120)"/><rect x="1028.5" y="225.5" width="21" height="4" fill="rgb(220,244,140)"/><rect x="1028.5" y="229.5" width="21" height="3" fill="rgb(244,252,176)"/><rect x="1028.5" y="232.5" width="21" height="4" fill="rgb(240,252,184)"/><rect x="1028.5" y="236.5" width="21" height="4" fill="rgb(232,255,232)"/><rect x="1028.5" y="240.5" width="21" height="3" fill="rgb(192,240,252)"/><rect x="1028.5" y="243.5" width="21" height="4" fill="rgb(176,236,255)"/><rect x="1028.5" y="247.5" width="21" height="3" fill="rgb(152,224,252)"/><rect x="1028.5" y="250.5" width="21" height="4" fill="rgb(136,216,252)"/><rect x="1028.5" y="254.5" width="21" height="3" fill="rgb(112,188,228)"/><rect x="1028.5" y="257.5" width="21" height="4" fill="rgb(96,192,236)"/><rect x="1028.5" y="261.5" width="21" height="3" fill="rgb(80,168,212)"/><rect x="1028.5" y="264.5" width="21" height="4" fill="rgb(64,152,196)"/><rect x="1028.5" y="268.5" width="21" height="3" fill="rgb(48,136,184)"/><rect x="1028.5" y="271.5" width="21" height="4" fill="rgb(36,124,172)"/><rect x="1028.5" y="275.5" width="21" height="3" fill="rgb(32,112,160)"/><rect x="1028.5" y="278.5" width="21" height="4" fill="rgb(56,124,180)"/><rect x="1028.5" y="282.5" width="21" height="4" fill="rgb(120,148,220)"/><rect x="1028.5" y="286.5" width="21" height="3" fill="rgb(196,184,252)"/><rect x="1028.5" y="289.5" width="21" height="4" fill="rgb(180,164,248)"/><rect x="1028.5" y="293.5" width="21" height="3" fill="rgb(160,144,244)"/><rect x="1028.5" y="296.5" width="21" height="4" fill="rgb(136,124,240)"/><rect x="1028.5" y="300.5" width="21" height="3" fill="rgb(124,108,232)"/><rect x="1028.5" y="303.5" width="21" height="4" fill="rgb(112,96,224)"/><rect x="1028.5" y="307.5" width="21" height="3" fill="rgb(100,84,212)"/><rect x="1028.5" y="310.5" width="21" height="4" fill="rgb(88,68,200)"/><rect x="1028.5" y="314.5" width="21" height="3" fill="rgb(72,52,184)"/><rect x="1028.5" y="317.5" width="21" height="4" fill="rgb(64,40,168)"/><g stroke="#000" fill="none"><line x1="1028" y1="112.5" x2="1050" y2="112.5"/><line x1="1028" y1="116.5" x2="1050" y2="116.5"/><line x1="1028" y1="119.5" x2="1050" y2="119.5"/><line x1="1028" y1="123.5" x2="1050" y2="123.5"/><line x1="1028" y1="126.5" x2="1050" y2="126.5"/><line x1="1028" y1="130.5" x2="1050" y2="130.5"/><line x1="1028" y1="133.5" x2="1050" y2="133.5"/><line x1="1028" y1="137.5" x2="1050" y2="137.5"/><line x1="1028" y1="140.5" x2="1050" y2="140.5"/><line x1="1028" y1="144.5" x2="1050" y2="144.5"/><line x1="1028" y1="147.5" x2="1050" y2="147.5"/><line x1="1028" y1="151.5" x2="1050" y2="151.5"/><line x1="1028" y1="155.5" x2="1050" y2="155.5"/><line x1="1028" y1="158.5" x2="1050" y2="158.5"/><line x1="1028" y1="162.5" x2="1050" y2="162.5"/><line x1="1028" y1="165.5" x2="1050" y2="165.5"/><line x1="1028" y1="169.5" x2="1050" y2="169.5"/><line x1="1028" y1="172.5" x2="1050" y2="172.5"/><line x1="1028" y1="176.5" x2="1050" y2="176.5"/><line x1="1028" y1="179.5" x2="1050" y2="179.5"/><line x1="1028" y1="183.5" x2="1050" y2="183.5"/><line x1="1028" y1="186.5" x2="1050" y2="186.5"/><line x1="1028" y1="190.5" x2="1050" y2="190.5"/><line x1="1028" y1="193.5" x2="1050" y2="193.5"/><line x1="1028" y1="197.5" x2="1050" y2="197.5"/><line x1="1028" y1="201.5" x2="1050" y2="201.5"/><line x1="1028" y1="204.5" x2="1050" y2="204.5"/><line x1="1028" y1="208.5" x2="1050" y2="208.5"/><line x1="1028" y1="211.5" x2="1050" y2="211.5"/><line x1="1028" y1="215.5" x2="1050" y2="215.5"/><line x1="1028" y1="218.5" x2="1050" y2="218.5"/><line x1="1028" y1="222.5" x2="1050" y2="222.5"/><line x1="1028" y1="225.5" x2="1050" y2="225.5"/><line x1="1028" y1="229.5" x2="1050" y2="229.5"/><line x1="1028" y1="232.5" x2="1050" y2="232.5"/><line x1="1028" y1="236.5" x2="1050" y2="236.5"/><line x1="1028" y1="240.5" x2="1050" y2="240.5"/><line x1="1028" y1="243.5" x2="1050" y2="243.5"/><line x1="1028" y1="247.5" x2="1050" y2="247.5"/><line x1="1028" y1="250.5" x2="1050" y2="250.5"/><line x1="1028" y1="254.5" x2="1050" y2="254.5"/><line x1="1028" y1="257.5" x2="1050" y2="257.5"/><line x1="1028" y1="261.5" x2="1050" y2="261.5"/><line x1="1028" y1="264.5" x2="1050" y2="264.5"/><line x1="1028" y1="268.5" x2="1050" y2="268.5"/><line x1="1028" y1="271.5" x2="1050" y2="271.5"/><line x1="1028" y1="275.5" x2="1050" y2="275.5"/><line x1="1028" y1="278.5" x2="1050" y2="278.5"/><line x1="1028" y1="282.5" x2="1050" y2="282.5"/><line x1="1028" y1="286.5" x2="1050" y2="286.5"/><line x1="1028" y1="289.5" x2="1050" y2="289.5"/><line x1="1028" y1="293.5" x2="1050" y2="293.5"/><line x1="1028" y1="296.5" x2="1050" y2="296.5"/><line x1="1028" y1="300.5" x2="1050" y2="300.5"/><line x1="1028" y1="303.5" x2="1050" y2="303.5"/><line x1="1028" y1="307.5" x2="1050" y2="307.5"/><line x1="1028" y1="310.5" x2="1050" y2="310.5"/><line x1="1028" y1="314.5" x2="1050" y2="314.5"/><line x1="1028" y1="317.5" x2="1050" y2="317.5"/><line x1="1028" y1="321.5" x2="1050" y2="321.5"/><line x1="1028.5" y1="112" x2="1028.5" y2="322"/><line x1="1049.5" y1="112" x2="1049.5" y2="322"/></g></g><path d="M1028.5,112.5 L1039.5,100.5 L1049.5,112.5 Z" fill="rgb(152,16,20)" stroke="#000" stroke-width="1"/><path d="M1028.5,321.5 L1039.5,332.5 L1049.5,321.5 Z" fill="rgb(40,20,152)" stroke="#000" stroke-width="1"/><g font-family="Liberation Sans, sans-serif" font-size="12.2"><text x="1054" y="124.2">33</text><text x="1054" y="134.8">30</text><text x="1054" y="145.4">27</text><text x="1054" y="156.1">24</text><text x="1054" y="166.7">21</text><text x="1054" y="177.3">18</text><text x="1054" y="187.9">15</text><text x="1054" y="198.6">12</text><text x="1054" y="209.2">9</text><text x="1054" y="219.8">6</text><text x="1054" y="230.5">3</text><text x="1054" y="241.1">0</text><line x1="1051.5" y1="247.5" x2="1059" y2="247.5" stroke="#000" stroke-width="1" shape-rendering="crispEdges"/><text x="1060" y="251.7">3</text><line x1="1051.5" y1="257.5" x2="1059" y2="257.5" stroke="#000" stroke-width="1" shape-rendering="crispEdges"/><text x="1060" y="262.3">6</text><line x1="1051.5" y1="268.5" x2="1059" y2="268.5" stroke="#000" stroke-width="1" shape-rendering="crispEdges"/><text x="1060" y="273.0">9</text><line x1="1051.5" y1="278.5" x2="1059" y2="278.5" stroke="#000" stroke-width="1" shape-rendering="crispEdges"/><text x="1060" y="283.6">12</text><line x1="1051.5" y1="289.5" x2="1059" y2="289.5" stroke="#000" stroke-width="1" shape-rendering="crispEdges"/><text x="1060" y="294.2">15</text><line x1="1051.5" y1="300.5" x2="1059" y2="300.5" stroke="#000" stroke-width="1" shape-rendering="crispEdges"/><text x="1060" y="304.8">18</text><line x1="1051.5" y1="310.5" x2="1059" y2="310.5" stroke="#000" stroke-width="1" shape-rendering="crispEdges"/><text x="1060" y="315.5">21</text><line x1="1051.5" y1="321.5" x2="1059" y2="321.5" stroke="#000" stroke-width="1" shape-rendering="crispEdges"/><text x="1060" y="326.1">24</text></g>
</g>

<!-- panel bl : Low Cloud Cover -->
<g>
<g clip-path="url(#clip_bl)">
<rect x="86" y="536" width="386" height="232" fill="#000"/>
<g filter="url(#b1)">
<polygon points="88.0,539.0 272.0,539.0 262.0,546.0 240.0,556.0 222.0,566.0 200.0,573.0 180.0,581.0 165.0,588.0 140.0,590.0 134.0,585.0 150.0,576.0 122.0,571.0 96.0,577.0 88.0,579.0" fill="#1f1f1f"/>
<polygon points="88,539 150,539 120,552 96,562 88,565" fill="#303030"/>
<polygon points="119,557 140,552 162,553 152,559 126,562" fill="#060606"/>
<polygon points="150,566 170,560 160,570 140,574" fill="#060606"/>
<polygon points="185,545 200,542 196,548 186,550" fill="#060606"/>
<polygon points="165.0,562.0 180.0,553.0 200.0,548.0 216.0,545.0 224.0,552.0 215.0,560.0 200.0,568.0 185.0,575.0 170.0,580.0 158.0,582.0 164.0,572.0" fill="#3a3a3a"/>
<polygon points="182,563 196,555 210,549 216,551 204,560 190,568" fill="#565656"/>
</g>
<g filter="url(#b15)">
<ellipse cx="243" cy="555" rx="17" ry="5.5" transform="rotate(-22 243 555)" fill="#5a5a5a"/>
<ellipse cx="243" cy="554.5" rx="10" ry="3.4" transform="rotate(-22 243 554.5)" fill="#8c8c8c"/>
<ellipse cx="245" cy="552.5" rx="5" ry="1.8" transform="rotate(-22 245 552.5)" fill="#b4b4b4"/>
</g>
<rect x="100" y="539.5" width="160" height="1.6" fill="#777" filter="url(#b06)"/>
<g filter="url(#b15)">
<polygon points="124.6,682.3 132.5,673.4 135.4,662.5 164.1,660.5 195.8,657.6 211.6,655.6 223.4,659.6 235.3,656.6 249.2,654.6 257.0,657.6 268.0,656.0 274.0,646.0 280.0,634.5 287.0,623.0 293.6,612.1 319.3,611.1 343.1,613.1 350.0,620.0 358.9,621.0 372.7,623.0 386.6,618.0 392.5,622.0 402.4,626.0 416.2,620.0 428.1,612.1 436.0,606.2 437.0,596.0 435.2,586.0 441.5,579.8 445.6,573.6 451.8,567.4 458.0,558.0 462.2,555.0 466.3,541.0 475.0,530.0 475.0,775.0 184.0,775.0 183.9,761.4 195.8,754.5 207.6,746.6 223.4,738.7 241.0,731.0 235.3,730.8 223.4,729.8 203.7,722.8 187.8,716.9 172.0,713.0 156.2,707.0 150.3,699.1 142.4,691.2 132.5,688.2" fill="#fff"/>
<polygon points="268,656 274,646 280,634.5 287,623 293.6,612.1 306,617 300,628 293,640 280,651 271,660" fill="#8c8c8c"/>
<ellipse cx="297.5" cy="620" rx="5.5" ry="4" fill="#c4c4c4"/>
<ellipse cx="308" cy="620.8" rx="4" ry="3.6" fill="#2a2a2a"/>
<ellipse cx="286.5" cy="636" rx="6" ry="4" transform="rotate(-35 286.5 636)" fill="#e2e2e2"/>
<ellipse cx="304.5" cy="634.7" rx="8" ry="3.6" transform="rotate(-15 304.5 634.7)" fill="#4c4c4c"/>
<ellipse cx="261" cy="653.5" rx="10" ry="4.2" transform="rotate(-8 261 653.5)" fill="#0c0c0c"/>
<ellipse cx="240" cy="656.5" rx="6.5" ry="3.2" fill="#f0f0f0"/>
<ellipse cx="322" cy="618" rx="8" ry="4.5" fill="#fff"/>
<ellipse cx="335" cy="619" rx="9" ry="4" fill="#bbb"/>
<polygon points="347.0,641.8 362.8,631.9 386.6,627.9 398.4,629.9 378.7,637.8 354.9,642.8" fill="#5a5a5a"/>
<polygon points="386.6,643.8 398.4,631.9 396.0,622.0 404.0,624.0 414.3,627.9 410.3,635.8 398.4,643.8 390.5,651.7" fill="#000"/>
<polygon points="323.3,665.6 343.1,655.7 370.8,647.8 386.6,635.9 410.3,632.0 398.4,645.8 382.6,657.7 366.8,669.6 347.0,681.4 335.2,683.4 339.1,673.5 327.2,669.6" fill="#2c2c2c"/>
<polygon points="323.3,665.6 343.1,655.7 361,650.5 357,659 341,664.5 330,668.5" fill="#6e6e6e"/>
<polygon points="340,672.5 352,664.5 366,660 373,663.5 357,675 345,680.5" fill="#060606"/>
<polygon points="372,655 386,645 398,636 402,640 388,652 376,660" fill="#101010"/>
<ellipse cx="353.5" cy="659.5" rx="5" ry="3.5" fill="#c0c0c0"/>
<polygon points="287.7,683.4 299.6,675.5 311.4,676.5 303.5,685.4 291.6,688.3" fill="#303030"/>
<polygon points="275.8,729.9 283.7,728.9 299.6,740.8 296.6,746.7 287.7,742.7" fill="#7a7a7a"/>
<polygon points="350.0,689.3 358.9,683.4 364.8,684.4 354.9,691.3" fill="#8a8a8a"/>
<polygon points="418.2,646.8 434.0,645.8 447.9,653.7 457.8,661.6 461.7,673.5 460.8,699.2 457.8,713.1 438.0,721.0 426.1,728.9 418.2,736.8 424.2,740.8 428.1,756.6 426.1,764.0 339.1,764.0 343.1,752.6 333.2,740.8 317.4,736.8 305.5,726.9 289.7,723.0 275.8,717.0 260.0,711.1 256.0,708.5 260.0,706.1 289.7,706.1 302.5,708.1 311.4,699.2 319.3,697.2 314.4,711.1 327.2,710.1 343.1,698.2 337.1,711.1 347.0,709.1 360.9,695.3 368.8,694.3 374.7,703.2 390.5,704.2 404.4,698.2 416.2,691.0 398.4,692.3 386.0,688.6 380.5,683.0 388.0,676.3 399.0,679.3 410.3,680.8 418.2,675.5 430.1,671.5 434.0,661.6 424.2,657.7 402.4,659.7 410.3,651.8" fill="#000"/>
<ellipse cx="426" cy="683.5" rx="5.5" ry="4.5" fill="#c8c8c8"/>
<ellipse cx="430" cy="707" rx="4" ry="3.5" fill="#555"/>
<polygon points="326,729 334,727 350,730 348,732.6 336,731.4" fill="#e8e8e8"/>
<polygon points="399,736.3 418,735 418,738.6 400,739" fill="#f0f0f0"/>
<ellipse cx="441.5" cy="589.5" rx="6.5" ry="4.2" transform="rotate(-25 441.5 589.5)" fill="#454545"/>
<polygon points="410,596.5 422,590.5 431,588.3 434,590.5 426,594.2 412,598.8" fill="#d8d8d8"/>
<polygon points="413.5,609.3 420,605.5 430,604.3 435.5,605.5 428,609.6 416,611.2" fill="#cfcfcf"/>
<polygon points="160,761 178,755 204,754.5 196,760 172,763" fill="#aaa"/>
<polygon points="223,747 232,743 241,742.5 238,747 228,749" fill="#c4c4c4"/>
<polygon points="114,713 121,710 127,711 122,715" fill="#555"/>
</g>
<path d="M87,535 H471 V768 H87 Z M89.0,540.3 L467.8,540.0 L461.0,542.0 L467.7,544.0 L460.9,546.0 L467.6,548.0 L460.8,550.0 L467.5,552.0 L460.7,554.0 L467.4,556.0 L460.6,558.0 L467.3,560.0 L460.5,562.0 L467.2,564.0 L460.4,566.0 L467.1,568.0 L460.3,569.9 L467.0,571.9 L460.2,573.9 L466.9,575.9 L460.1,577.9 L466.8,579.9 L460.0,581.9 L466.7,583.9 L459.9,585.9 L466.6,587.9 L459.8,589.9 L466.5,591.9 L459.7,593.9 L466.4,595.9 L459.6,597.9 L466.3,599.9 L459.5,601.9 L466.2,603.9 L459.4,605.9 L466.1,607.9 L459.3,609.9 L466.0,611.9 L459.2,613.9 L465.9,615.9 L459.1,617.9 L465.8,619.9 L459.0,621.9 L465.7,623.9 L458.9,625.8 L465.6,627.8 L458.8,629.8 L465.5,631.8 L458.7,633.8 L465.4,635.8 L458.6,637.8 L465.3,639.8 L458.5,641.8 L465.2,643.8 L458.4,645.8 L465.1,647.8 L458.3,649.8 L465.1,651.8 L458.2,653.8 L465.0,655.8 L458.1,657.8 L464.9,659.8 L458.0,661.8 L464.8,663.8 L457.9,665.8 L464.7,667.8 L457.8,669.8 L464.6,671.8 L457.7,673.8 L464.5,675.8 L457.6,677.8 L464.4,679.8 L457.5,681.7 L464.3,683.7 L457.4,685.7 L464.2,687.7 L457.3,689.7 L464.1,691.7 L457.2,693.7 L464.0,695.7 L457.1,697.7 L463.9,699.7 L457.0,701.7 L463.8,703.7 L456.9,705.7 L463.7,707.7 L456.8,709.7 L463.6,711.7 L456.7,713.7 L463.5,715.7 L456.6,717.7 L463.4,719.7 L456.5,721.7 L463.3,723.7 L456.4,725.7 L463.2,727.7 L456.3,729.7 L463.1,731.7 L456.2,733.7 L463.0,735.7 L456.1,737.6 L462.9,739.6 L456.0,741.6 L462.8,743.6 L455.9,745.6 L462.7,747.6 L455.8,749.6 L462.6,751.6 L455.7,753.6 L462.5,755.6 L455.6,757.6 L462.4,759.6 L455.5,761.6 L462.3,763.6 L94.8,764.0 L100.9,762.0 L94.7,760.0 L100.8,758.0 L94.6,756.0 L100.7,754.0 L94.5,752.0 L100.6,750.0 L94.4,748.0 L100.5,746.0 L94.3,744.0 L100.4,742.0 L94.2,740.0 L100.3,738.0 L94.1,736.0 L100.2,734.0 L94.0,732.0 L100.1,730.0 L93.9,728.0 L100.0,726.1 L93.8,724.1 L99.9,722.1 L93.7,720.1 L99.8,718.1 L93.6,716.1 L99.7,714.1 L93.5,712.1 L99.6,710.1 L93.3,708.1 L99.5,706.1 L93.2,704.1 L99.4,702.1 L93.1,700.1 L99.3,698.1 L93.0,696.1 L99.2,694.1 L92.9,692.1 L99.1,690.1 L92.8,688.1 L99.0,686.1 L92.7,684.1 L98.9,682.1 L92.6,680.1 L98.8,678.1 L92.5,676.1 L98.7,674.1 L92.4,672.1 L98.6,670.1 L92.3,668.1 L98.5,666.1 L92.2,664.1 L98.4,662.1 L92.1,660.1 L98.3,658.1 L92.0,656.1 L98.2,654.1 L91.9,652.1 L98.0,650.2 L91.8,648.2 L97.9,646.2 L91.7,644.2 L97.8,642.2 L91.6,640.2 L97.7,638.2 L91.5,636.2 L97.6,634.2 L91.4,632.2 L97.5,630.2 L91.3,628.2 L97.4,626.2 L91.2,624.2 L97.3,622.2 L91.1,620.2 L97.2,618.2 L91.0,616.2 L97.1,614.2 L90.9,612.2 L97.0,610.2 L90.8,608.2 L96.9,606.2 L90.7,604.2 L96.8,602.2 L90.6,600.2 L96.7,598.2 L90.5,596.2 L96.6,594.2 L90.3,592.2 L96.5,590.2 L90.2,588.2 L96.4,586.2 L90.1,584.2 L96.3,582.2 L90.0,580.2 L96.2,578.2 L89.9,576.3 L96.1,574.3 L89.8,572.3 L96.0,570.3 L89.7,568.3 L95.9,566.3 L89.6,564.3 L95.8,562.3 L89.5,560.3 L95.7,558.3 L89.4,556.3 L95.6,554.3 L89.3,552.3 L95.5,550.3 L89.2,548.3 L95.4,546.3 L89.1,544.3 L95.3,542.3 L89.0,540.3 Z" fill="#fff" fill-rule="evenodd"/>
</g>
<g clip-path="url(#clip_bl)">
<use href="#bthin" transform="translate(0,435)"/>
<use href="#coast" transform="translate(0,435)"/>
</g>
<g stroke="#000" stroke-width="1" fill="none" shape-rendering="crispEdges"><rect x="87.5" y="535.5" width="383" height="232"/><line x1="113.5" y1="526" x2="113.5" y2="535"/><line x1="113.5" y1="768" x2="113.5" y2="777"/><line x1="157.5" y1="526" x2="157.5" y2="535"/><line x1="157.5" y1="768" x2="157.5" y2="777"/><line x1="200.5" y1="526" x2="200.5" y2="535"/><line x1="200.5" y1="768" x2="200.5" y2="777"/><line x1="243.5" y1="526" x2="243.5" y2="535"/><line x1="243.5" y1="768" x2="243.5" y2="777"/><line x1="287.5" y1="526" x2="287.5" y2="535"/><line x1="287.5" y1="768" x2="287.5" y2="777"/><line x1="330.5" y1="526" x2="330.5" y2="535"/><line x1="330.5" y1="768" x2="330.5" y2="777"/><line x1="373.5" y1="526" x2="373.5" y2="535"/><line x1="373.5" y1="768" x2="373.5" y2="777"/><line x1="417.5" y1="526" x2="417.5" y2="535"/><line x1="417.5" y1="768" x2="417.5" y2="777"/><line x1="460.5" y1="526" x2="460.5" y2="535"/><line x1="460.5" y1="768" x2="460.5" y2="777"/><line x1="78" y1="551.5" x2="87" y2="551.5"/><line x1="471" y1="551.5" x2="481" y2="551.5"/><line x1="78" y1="574.5" x2="87" y2="574.5"/><line x1="471" y1="574.5" x2="481" y2="574.5"/><line x1="78" y1="596.5" x2="87" y2="596.5"/><line x1="471" y1="596.5" x2="481" y2="596.5"/><line x1="78" y1="618.5" x2="87" y2="618.5"/><line x1="471" y1="618.5" x2="481" y2="618.5"/><line x1="78" y1="641.5" x2="87" y2="641.5"/><line x1="471" y1="641.5" x2="481" y2="641.5"/><line x1="78" y1="663.5" x2="87" y2="663.5"/><line x1="471" y1="663.5" x2="481" y2="663.5"/><line x1="78" y1="686.5" x2="87" y2="686.5"/><line x1="471" y1="686.5" x2="481" y2="686.5"/><line x1="78" y1="708.5" x2="87" y2="708.5"/><line x1="471" y1="708.5" x2="481" y2="708.5"/><line x1="78" y1="730.5" x2="87" y2="730.5"/><line x1="471" y1="730.5" x2="481" y2="730.5"/><line x1="78" y1="753.5" x2="87" y2="753.5"/><line x1="471" y1="753.5" x2="481" y2="753.5"/></g>
<g font-family="Liberation Sans, sans-serif" font-size="14.2"><text x="87.6" y="493" textLength="27.6" lengthAdjust="spacingAndGlyphs">TIME</text><text x="121.6" y="493">:</text><text x="133.4" y="493" textLength="92.8" lengthAdjust="spacingAndGlyphs">14−JAN−2015</text><text x="234.7" y="493" textLength="35.6" lengthAdjust="spacingAndGlyphs">08:00</text></g><g font-family="Liberation Sans, sans-serif" font-size="17.6" text-anchor="middle" fill="#1e1e1e"><text x="113.5" y="798.6">2.5</text><text x="200.2" y="798.6">3.5</text><text x="287.0" y="798.6">4.5</text><text x="373.8" y="798.6">5.5</text><text x="460.5" y="798.6">6.5</text></g><g font-family="Liberation Sans, sans-serif" font-size="17.6" text-anchor="end" fill="#1e1e1e"><text x="69.5" y="580.2">51.2</text><text x="69.5" y="625.1">50.8</text><text x="69.5" y="670.0">50.4</text><text x="69.5" y="714.9">50.0</text><text x="69.5" y="759.8">49.6</text></g><text x="279" y="812" font-family="Liberation Serif, serif" font-weight="bold" font-size="12.6" text-anchor="middle" textLength="58" lengthAdjust="spacing">Longitude</text><text transform="translate(27,651.5) rotate(-90)" font-family="Liberation Serif, serif" font-weight="bold" font-size="12.6" text-anchor="middle" textLength="48" lengthAdjust="spacing">Latitude</text><g font-family="Liberation Serif, serif" font-size="23.5"><text x="181.3" y="848.6" textLength="39.6" lengthAdjust="spacingAndGlyphs">Low</text><text x="235.8" y="848.6" textLength="63.3" lengthAdjust="spacingAndGlyphs">Cloud</text><text x="314" y="848.6" textLength="62.6" lengthAdjust="spacingAndGlyphs">Cover</text></g><g font-family="Liberation Sans, sans-serif" font-size="9.4" fill="#0000ff" stroke="#0000ff" stroke-width="0.22"><text x="102" y="724.6" textLength="43.5" lengthAdjust="spacingAndGlyphs">WRF-NMM</text><text x="102" y="739" textLength="156" lengthAdjust="spacingAndGlyphs">Lab. Climatology &amp; Topoclimatology</text><text x="102" y="753.4" textLength="80" lengthAdjust="spacingAndGlyphs">University of Liege</text></g>
<g shape-rendering="crispEdges"><rect x="485.5" y="535.5" width="21" height="24" fill="rgb(0,0,0)"/><rect x="485.5" y="559.5" width="21" height="23" fill="rgb(32,32,32)"/><rect x="485.5" y="582.5" width="21" height="23" fill="rgb(61,61,61)"/><rect x="485.5" y="605.5" width="21" height="23" fill="rgb(89,89,89)"/><rect x="485.5" y="628.5" width="21" height="23" fill="rgb(117,117,117)"/><rect x="485.5" y="651.5" width="21" height="23" fill="rgb(145,145,145)"/><rect x="485.5" y="674.5" width="21" height="24" fill="rgb(173,173,173)"/><rect x="485.5" y="698.5" width="21" height="23" fill="rgb(201,201,201)"/><rect x="485.5" y="721.5" width="21" height="23" fill="rgb(229,229,229)"/><rect x="485.5" y="744.5" width="21" height="23" fill="rgb(255,255,255)"/><g stroke="#000" fill="none"><line x1="485" y1="559.5" x2="507" y2="559.5"/><line x1="485" y1="582.5" x2="507" y2="582.5"/><line x1="485" y1="605.5" x2="507" y2="605.5"/><line x1="485" y1="628.5" x2="507" y2="628.5"/><line x1="485" y1="651.5" x2="507" y2="651.5"/><line x1="485" y1="674.5" x2="507" y2="674.5"/><line x1="485" y1="698.5" x2="507" y2="698.5"/><line x1="485" y1="721.5" x2="507" y2="721.5"/><line x1="485" y1="744.5" x2="507" y2="744.5"/><rect x="485.5" y="535.5" width="21" height="232"/></g></g><g font-family="Liberation Sans, sans-serif" font-size="11.6"><text x="510.3" y="540.1">1</text><text x="510.3" y="563.3">0.9</text><text x="510.3" y="586.5">0.8</text><text x="510.3" y="609.7">0.7</text><text x="510.3" y="632.9">0.6</text><text x="510.3" y="656.1">0.5</text><text x="510.3" y="679.3">0.4</text><text x="510.3" y="702.5">0.3</text><text x="510.3" y="725.7">0.2</text><text x="510.3" y="748.9">0.1</text><text x="510.3" y="772.1">0</text></g>
</g>

<!-- panel br : Medium Cloud Cover -->
<g>
<g clip-path="url(#clip_br)">
<rect x="629" y="536" width="386" height="232" fill="#000"/>
<rect x="680" y="539.5" width="60" height="1.4" fill="#888" filter="url(#b06)"/>
<rect x="880" y="539.2" width="125" height="1.4" fill="#777" filter="url(#b06)"/>
<g filter="url(#b15)">
<polygon points="1020.0,623.0 1006.0,625.5 998.0,630.0 993.0,636.0 988.5,648.0 988.5,656.0 993.0,665.0 1000.0,672.5 1001.5,679.5 994.0,684.5 976.1,685.3 956.7,684.4 965.0,687.7 971.0,698.8 972.0,709.5 966.0,713.5 956.3,716.0 943.1,723.5 935.2,731.0 936.2,740.0 949.0,752.0 965.0,761.0 962.2,775.0 1020.0,775.0" fill="#fff"/>
<ellipse cx="984" cy="704" rx="15" ry="7" transform="rotate(-14 984 704)" fill="#b0b0b0"/>
<ellipse cx="980" cy="705.5" rx="10" ry="3.8" transform="rotate(-14 980 705.5)" fill="#101010"/>
<polygon points="994,722 1008,721 1005,745 993,767 973,767 985,746" fill="#b4b4b4"/>
<polygon points="994,738 1001,736 998,752 989,763 981,764 988,750" fill="#3a3a3a"/>
<ellipse cx="1001.5" cy="630" rx="3.5" ry="1.6" fill="#777"/>
<ellipse cx="1001.5" cy="692" rx="3.5" ry="2.2" fill="#888"/>
<ellipse cx="1000.5" cy="674" rx="3" ry="2" fill="#999"/>
</g>
<path d="M630,535 H1015 V768 H630 Z M632.0,540.3 L1010.8,540.0 L1004.0,542.0 L1010.7,544.0 L1003.9,546.0 L1010.6,548.0 L1003.8,550.0 L1010.5,552.0 L1003.7,554.0 L1010.4,556.0 L1003.6,558.0 L1010.3,560.0 L1003.5,562.0 L1010.2,564.0 L1003.4,566.0 L1010.1,568.0 L1003.3,569.9 L1010.0,571.9 L1003.2,573.9 L1009.9,575.9 L1003.1,577.9 L1009.8,579.9 L1003.0,581.9 L1009.7,583.9 L1002.9,585.9 L1009.6,587.9 L1002.8,589.9 L1009.5,591.9 L1002.7,593.9 L1009.4,595.9 L1002.6,597.9 L1009.3,599.9 L1002.5,601.9 L1009.2,603.9 L1002.4,605.9 L1009.1,607.9 L1002.3,609.9 L1009.0,611.9 L1002.2,613.9 L1008.9,615.9 L1002.1,617.9 L1008.8,619.9 L1002.0,621.9 L1008.7,623.9 L1001.9,625.8 L1008.6,627.8 L1001.8,629.8 L1008.5,631.8 L1001.7,633.8 L1008.4,635.8 L1001.6,637.8 L1008.3,639.8 L1001.5,641.8 L1008.2,643.8 L1001.4,645.8 L1008.1,647.8 L1001.3,649.8 L1008.0,651.8 L1001.2,653.8 L1008.0,655.8 L1001.1,657.8 L1007.9,659.8 L1001.0,661.8 L1007.8,663.8 L1000.9,665.8 L1007.7,667.8 L1000.8,669.8 L1007.6,671.8 L1000.7,673.8 L1007.5,675.8 L1000.6,677.8 L1007.4,679.8 L1000.5,681.7 L1007.3,683.7 L1000.4,685.7 L1007.2,687.7 L1000.3,689.7 L1007.1,691.7 L1000.2,693.7 L1007.0,695.7 L1000.1,697.7 L1006.9,699.7 L1000.0,701.7 L1006.8,703.7 L999.9,705.7 L1006.7,707.7 L999.8,709.7 L1006.6,711.7 L999.7,713.7 L1006.5,715.7 L999.6,717.7 L1006.4,719.7 L999.5,721.7 L1006.3,723.7 L999.4,725.7 L1006.2,727.7 L999.3,729.7 L1006.1,731.7 L999.2,733.7 L1006.0,735.7 L999.1,737.6 L1005.9,739.6 L999.0,741.6 L1005.8,743.6 L998.9,745.6 L1005.7,747.6 L998.8,749.6 L1005.6,751.6 L998.7,753.6 L1005.5,755.6 L998.6,757.6 L1005.4,759.6 L998.5,761.6 L1005.3,763.6 L637.8,764.0 L643.9,762.0 L637.7,760.0 L643.8,758.0 L637.6,756.0 L643.7,754.0 L637.5,752.0 L643.6,750.0 L637.4,748.0 L643.5,746.0 L637.3,744.0 L643.4,742.0 L637.2,740.0 L643.3,738.0 L637.1,736.0 L643.2,734.0 L637.0,732.0 L643.1,730.0 L636.9,728.0 L643.0,726.1 L636.8,724.1 L642.9,722.1 L636.7,720.1 L642.8,718.1 L636.6,716.1 L642.7,714.1 L636.5,712.1 L642.6,710.1 L636.4,708.1 L642.5,706.1 L636.2,704.1 L642.4,702.1 L636.1,700.1 L642.3,698.1 L636.0,696.1 L642.2,694.1 L635.9,692.1 L642.1,690.1 L635.8,688.1 L642.0,686.1 L635.7,684.1 L641.9,682.1 L635.6,680.1 L641.8,678.1 L635.5,676.1 L641.7,674.1 L635.4,672.1 L641.6,670.1 L635.3,668.1 L641.5,666.1 L635.2,664.1 L641.4,662.1 L635.1,660.1 L641.3,658.1 L635.0,656.1 L641.2,654.1 L634.9,652.1 L641.0,650.2 L634.8,648.2 L640.9,646.2 L634.7,644.2 L640.8,642.2 L634.6,640.2 L640.7,638.2 L634.5,636.2 L640.6,634.2 L634.4,632.2 L640.5,630.2 L634.3,628.2 L640.4,626.2 L634.2,624.2 L640.3,622.2 L634.1,620.2 L640.2,618.2 L634.0,616.2 L640.1,614.2 L633.9,612.2 L640.0,610.2 L633.8,608.2 L639.9,606.2 L633.7,604.2 L639.8,602.2 L633.6,600.2 L639.7,598.2 L633.5,596.2 L639.6,594.2 L633.3,592.2 L639.5,590.2 L633.2,588.2 L639.4,586.2 L633.1,584.2 L639.3,582.2 L633.0,580.2 L639.2,578.2 L632.9,576.3 L639.1,574.3 L632.8,572.3 L639.0,570.3 L632.7,568.3 L638.9,566.3 L632.6,564.3 L638.8,562.3 L632.5,560.3 L638.7,558.3 L632.4,556.3 L638.6,554.3 L632.3,552.3 L638.5,550.3 L632.2,548.3 L638.4,546.3 L632.1,544.3 L638.3,542.3 L632.0,540.3 Z" fill="#fff" fill-rule="evenodd"/>
</g>
<g clip-path="url(#clip_br)">
<use href="#bthin" transform="translate(543.5,435)"/>
<use href="#coast" transform="translate(543.5,435)"/>
</g>
<g stroke="#000" stroke-width="1" fill="none" shape-rendering="crispEdges"><rect x="630.5" y="535.5" width="384" height="232"/><line x1="657.5" y1="526" x2="657.5" y2="535"/><line x1="657.5" y1="768" x2="657.5" y2="777"/><line x1="701.5" y1="526" x2="701.5" y2="535"/><line x1="701.5" y1="768" x2="701.5" y2="777"/><line x1="744.5" y1="526" x2="744.5" y2="535"/><line x1="744.5" y1="768" x2="744.5" y2="777"/><line x1="787.5" y1="526" x2="787.5" y2="535"/><line x1="787.5" y1="768" x2="787.5" y2="777"/><line x1="831.5" y1="526" x2="831.5" y2="535"/><line x1="831.5" y1="768" x2="831.5" y2="777"/><line x1="874.5" y1="526" x2="874.5" y2="535"/><line x1="874.5" y1="768" x2="874.5" y2="777"/><line x1="917.5" y1="526" x2="917.5" y2="535"/><line x1="917.5" y1="768" x2="917.5" y2="777"/><line x1="961.5" y1="526" x2="961.5" y2="535"/><line x1="961.5" y1="768" x2="961.5" y2="777"/><line x1="1004.5" y1="526" x2="1004.5" y2="535"/><line x1="1004.5" y1="768" x2="1004.5" y2="777"/><line x1="621" y1="551.5" x2="630" y2="551.5"/><line x1="1015" y1="551.5" x2="1025" y2="551.5"/><line x1="621" y1="574.5" x2="630" y2="574.5"/><line x1="1015" y1="574.5" x2="1025" y2="574.5"/><line x1="621" y1="596.5" x2="630" y2="596.5"/><line x1="1015" y1="596.5" x2="1025" y2="596.5"/><line x1="621" y1="618.5" x2="630" y2="618.5"/><line x1="1015" y1="618.5" x2="1025" y2="618.5"/><line x1="621" y1="641.5" x2="630" y2="641.5"/><line x1="1015" y1="641.5" x2="1025" y2="641.5"/><line x1="621" y1="663.5" x2="630" y2="663.5"/><line x1="1015" y1="663.5" x2="1025" y2="663.5"/><line x1="621" y1="686.5" x2="630" y2="686.5"/><line x1="1015" y1="686.5" x2="1025" y2="686.5"/><line x1="621" y1="708.5" x2="630" y2="708.5"/><line x1="1015" y1="708.5" x2="1025" y2="708.5"/><line x1="621" y1="730.5" x2="630" y2="730.5"/><line x1="1015" y1="730.5" x2="1025" y2="730.5"/><line x1="621" y1="753.5" x2="630" y2="753.5"/><line x1="1015" y1="753.5" x2="1025" y2="753.5"/></g>
<g font-family="Liberation Sans, sans-serif" font-size="14.2"><text x="630.6" y="493" textLength="27.6" lengthAdjust="spacingAndGlyphs">TIME</text><text x="664.6" y="493">:</text><text x="676.4" y="493" textLength="92.8" lengthAdjust="spacingAndGlyphs">14−JAN−2015</text><text x="777.7" y="493" textLength="35.6" lengthAdjust="spacingAndGlyphs">08:00</text></g><g font-family="Liberation Sans, sans-serif" font-size="17.6" text-anchor="middle" fill="#1e1e1e"><text x="657.5" y="798.6">2.5</text><text x="744.2" y="798.6">3.5</text><text x="831.0" y="798.6">4.5</text><text x="917.8" y="798.6">5.5</text><text x="1004.5" y="798.6">6.5</text></g><g font-family="Liberation Sans, sans-serif" font-size="17.6" text-anchor="end" fill="#1e1e1e"><text x="612.5" y="580.2">51.2</text><text x="612.5" y="625.1">50.8</text><text x="612.5" y="670.0">50.4</text><text x="612.5" y="714.9">50.0</text><text x="612.5" y="759.8">49.6</text></g><text x="822.5" y="812" font-family="Liberation Serif, serif" font-weight="bold" font-size="12.6" text-anchor="middle" textLength="58" lengthAdjust="spacing">Longitude</text><text transform="translate(570,651.5) rotate(-90)" font-family="Liberation Serif, serif" font-weight="bold" font-size="12.6" text-anchor="middle" textLength="48" lengthAdjust="spacing">Latitude</text><g font-family="Liberation Serif, serif" font-size="23.5"><text x="699.6" y="848.6" textLength="91.0" lengthAdjust="spacingAndGlyphs">Medium</text><text x="804.3" y="848.6" textLength="64.0" lengthAdjust="spacingAndGlyphs">Cloud</text><text x="882.5" y="848.6" textLength="63.3" lengthAdjust="spacingAndGlyphs">Cover</text></g><g font-family="Liberation Sans, sans-serif" font-size="9.4" fill="#0000ff" stroke="#0000ff" stroke-width="0.22"><text x="645" y="724.6" textLength="43.5" lengthAdjust="spacingAndGlyphs">WRF-NMM</text><text x="645" y="739" textLength="156" lengthAdjust="spacingAndGlyphs">Lab. Climatology &amp; Topoclimatology</text><text x="645" y="753.4" textLength="80" lengthAdjust="spacingAndGlyphs">University of Liege</text></g>
<g shape-rendering="crispEdges"><rect x="1028.5" y="535.5" width="21" height="24" fill="rgb(0,0,0)"/><rect x="1028.5" y="559.5" width="21" height="23" fill="rgb(32,32,32)"/><rect x="1028.5" y="582.5" width="21" height="23" fill="rgb(61,61,61)"/><rect x="1028.5" y="605.5" width="21" height="23" fill="rgb(89,89,89)"/><rect x="1028.5" y="628.5" width="21" height="23" fill="rgb(117,117,117)"/><rect x="1028.5" y="651.5" width="21" height="23" fill="rgb(145,145,145)"/><rect x="1028.5" y="674.5" width="21" height="24" fill="rgb(173,173,173)"/><rect x="1028.5" y="698.5" width="21" height="23" fill="rgb(201,201,201)"/><rect x="1028.5" y="721.5" width="21" height="23" fill="rgb(229,229,229)"/><rect x="1028.5" y="744.5" width="21" height="23" fill="rgb(255,255,255)"/><g stroke="#000" fill="none"><line x1="1028" y1="559.5" x2="1050" y2="559.5"/><line x1="1028" y1="582.5" x2="1050" y2="582.5"/><line x1="1028" y1="605.5" x2="1050" y2="605.5"/><line x1="1028" y1="628.5" x2="1050" y2="628.5"/><line x1="1028" y1="651.5" x2="1050" y2="651.5"/><line x1="1028" y1="674.5" x2="1050" y2="674.5"/><line x1="1028" y1="698.5" x2="1050" y2="698.5"/><line x1="1028" y1="721.5" x2="1050" y2="721.5"/><line x1="1028" y1="744.5" x2="1050" y2="744.5"/><rect x="1028.5" y="535.5" width="21" height="232"/></g></g><g font-family="Liberation Sans, sans-serif" font-size="11.6"><text x="1053.3" y="540.1">1</text><text x="1053.3" y="563.3">0.9</text><text x="1053.3" y="586.5">0.8</text><text x="1053.3" y="609.7">0.7</text><text x="1053.3" y="632.9">0.6</text><text x="1053.3" y="656.1">0.5</text><text x="1053.3" y="679.3">0.4</text><text x="1053.3" y="702.5">0.3</text><text x="1053.3" y="725.7">0.2</text><text x="1053.3" y="748.9">0.1</text><text x="1053.3" y="772.1">0</text></g>
</g>
</svg></body></html>
